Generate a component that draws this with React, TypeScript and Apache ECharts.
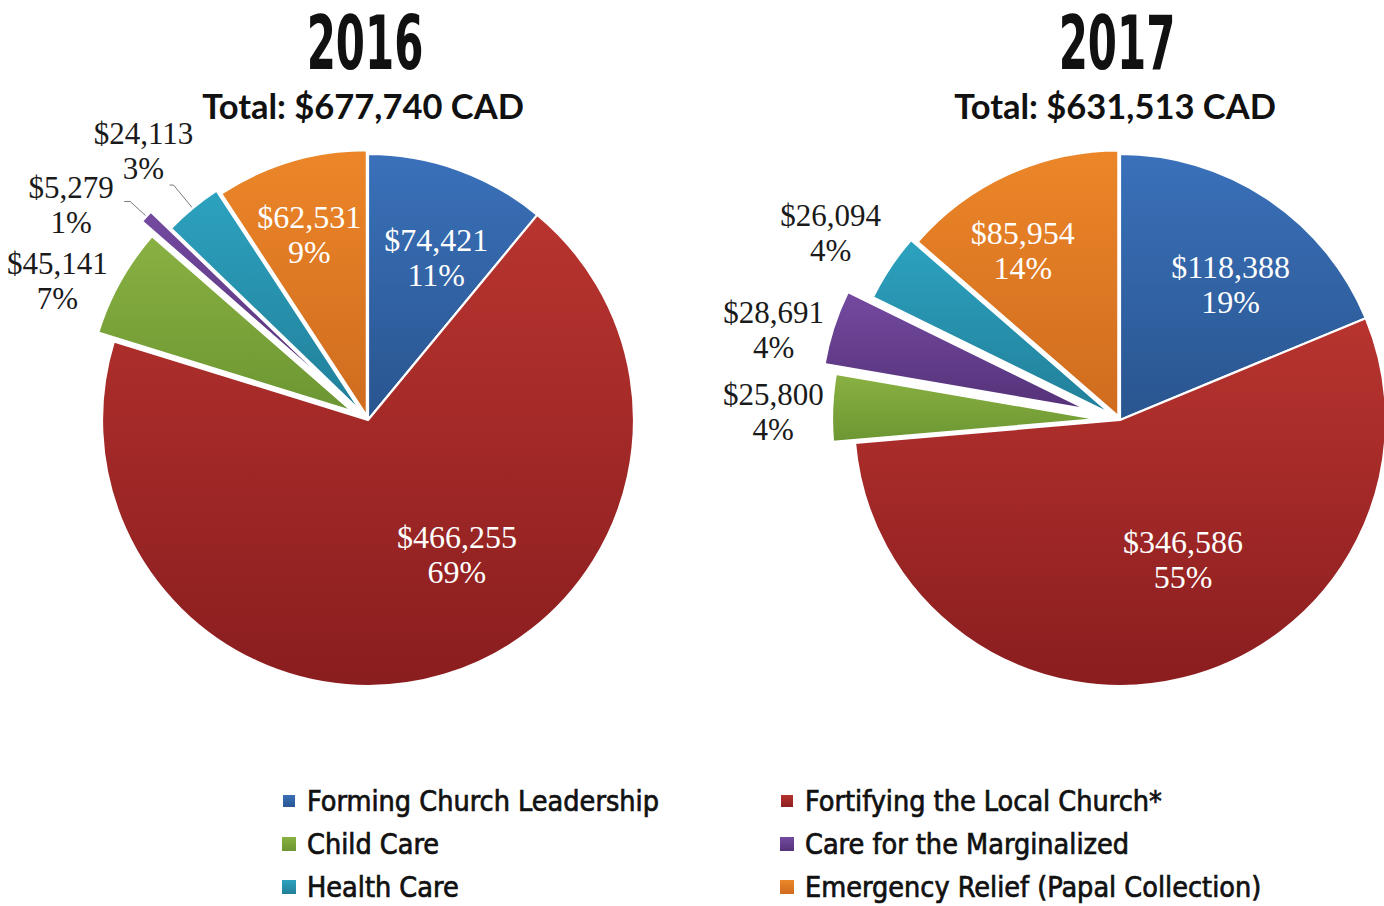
import React, { useEffect, useRef } from 'react';
import * as echarts from 'echarts';

const categories = [
  'Forming Church Leadership',
  'Fortifying the Local Church*',
  'Child Care',
  'Care for the Marginalized',
  'Health Care',
  'Emergency Relief (Papal Collection)',
];
const years = ['2016', '2017'];
const totals = ['Total: $677,740 CAD', 'Total: $631,513 CAD'];
const values2016 = [74421, 466255, 45141, 5279, 24113, 62531];
const values2017 = [118388, 346586, 25800, 28691, 26094, 85954];
const pct2016 = ['11%', '69%', '7%', '1%', '3%', '9%'];
const pct2017 = ['19%', '55%', '4%', '4%', '4%', '14%'];

// styling / layout constants
const colorsTop = ['#3a71ba', '#b8342f', '#89b142', '#744aa0', '#2ca2bf', '#ec8629'];
const colorsBottom = ['#29558f', '#8a1d1f', '#6c9632', '#553279', '#227f99', '#cf6c1e'];
const R = 266;
const centers = [[368, 420], [1120, 420]];
const explode = [
  [0, 0, 18, 35, 9, 4],
  [0, 0, 22, 35, 10, 4],
];
// outside labels: index -> [length, length2, showLine, dx, dy]
const outside = [
  { 2: [2, 0, false, 0, 0], 3: [22, 6, true, 8, 4], 4: [30, 4, true, 35, -34] },
  { 2: [2, 3, false, 7, 4], 3: [2, 3, false, 6, 3], 4: [4, 3, false, 8, -32] },
];
// inside labels: index -> [dx, dy]
const inside = [
  { 0: [7, 8], 1: [37, -39], 5: [-7, -12] },
  { 0: [10, 15], 1: [20, -37], 5: [-22, -5] },
];

const SERIF = "'Liberation Serif', 'DejaVu Serif', serif";
const NARROW = "'DejaVu Sans Condensed', 'Liberation Sans Narrow', sans-serif";

const grad = (i: number) =>
  new echarts.graphic.LinearGradient(0, 0, 0, 1, [
    { offset: 0, color: colorsTop[i] },
    { offset: 1, color: colorsBottom[i] },
  ]);

const fmt = (v: number) => '$' + v.toLocaleString('en-US');

function buildSeries(idx: number) {
  const vals = idx === 0 ? values2016 : values2017;
  const pct = idx === 0 ? pct2016 : pct2017;
  const ex = explode[idx];
  const hidden = { color: 'rgba(0,0,0,0)', borderWidth: 0 };
  const visible = (i: number) => ({ color: grad(i), borderColor: '#ffffff', borderWidth: 2.2 });
  const common: any = {
    type: 'pie',
    center: centers[idx],
    radius: [0, R],
    startAngle: 90,
    clockwise: true,
    silent: true,
    animation: false,
    avoidLabelOverlap: false,
    emphasis: { disabled: true },
    label: { show: false },
    labelLine: { show: false },
  };
  const series: any[] = [];
  // fills that stay in place
  series.push({
    ...common,
    data: categories.map((n, i) => ({
      name: n,
      value: vals[i],
      itemStyle: ex[i] === 0 ? visible(i) : hidden,
    })),
  });
  // exploded fills
  categories.forEach((_, i) => {
    if (ex[i] === 0) return;
    series.push({
      ...common,
      selectedMode: 'single',
      selectedOffset: ex[i],
      select: { itemStyle: visible(i) },
      data: categories.map((n, j) => ({
        name: n,
        value: vals[j],
        selected: j === i,
        itemStyle: j === i ? visible(j) : hidden,
      })),
    });
  });
  // outside labels
  Object.keys(outside[idx]).forEach((key) => {
    const i = Number(key);
    const o = (outside[idx] as any)[i];
    series.push({
      ...common,
      radius: [0, R + ex[i]],
      labelLayout: { dx: o[3], dy: o[4], hideOverlap: false, moveOverlap: false },
      data: categories.map((n, j) => ({
        name: n,
        value: vals[j],
        itemStyle: hidden,
        label:
          j === i
            ? {
                show: true,
                position: 'outside',
                overflow: 'none',
                formatter: `{a|${fmt(vals[j])}}\n{a|${pct[j]}}`,
                rich: {
                  a: {
                    width: 112,
                    align: 'center',
                    fontFamily: SERIF,
                    fontSize: 31,
                    lineHeight: 35,
                    color: '#1a1a1a',
                  },
                },
              }
            : { show: false },
        labelLine:
          j === i
            ? { show: o[2], length: o[0], length2: o[1], lineStyle: { color: '#7a7a7a', width: 1 } }
            : { show: false },
      })),
    });
  });
  // inside labels
  Object.keys(inside[idx]).forEach((key) => {
    const i = Number(key);
    const d = (inside[idx] as any)[i];
    series.push({
      ...common,
      radius: [R * 0.34, R],
      labelLayout: { dx: d[0], dy: d[1], hideOverlap: false },
      data: categories.map((n, j) => ({
        name: n,
        value: vals[j],
        itemStyle: hidden,
        label:
          j === i
            ? {
                show: true,
                position: 'inside',
                formatter: `${fmt(vals[j])}\n${pct[j]}`,
                fontFamily: SERIF,
                fontSize: 32,
                lineHeight: 35,
                color: '#ffffff',
              }
            : { show: false },
      })),
    });
  });
  return series;
}

export default function App() {
  const ref = useRef<HTMLDivElement>(null);
  useEffect(() => {
    if (!ref.current) return;
    const chart = echarts.init(ref.current, undefined, { renderer: 'svg' });
    const legendText = {
      fontFamily: NARROW,
      fontSize: 28.5,
      fontWeight: 'normal' as const,
      color: '#111',
      textBorderColor: '#111',
      textBorderWidth: 0.7,
      lineHeight: 30,
      padding: [0, 0, 0, 6],
    };
    const legendItem = (i: number) => ({ name: categories[i], itemStyle: { color: grad(i) } });
    const graphic: any[] = [];
    years.forEach((y, k) => {
      graphic.push({
        type: 'text',
        x: centers[k][0] - 3,
        y: 44,
        scaleX: 0.63,
        style: {
          text: y,
          fontFamily: NARROW,
          fontWeight: 'bold',
          fontSize: 74,
          fill: '#111',
          textAlign: 'center',
          textVerticalAlign: 'middle',
        },
      });
      graphic.push({
        type: 'text',
        x: centers[k][0] - 5,
        y: 105,
        style: {
          text: totals[k],
          fontFamily: "Lato, 'Open Sans', sans-serif",
          fontWeight: 'bold',
          fontSize: 34.5,
          fill: '#111',
          textAlign: 'center',
          textVerticalAlign: 'middle',
        },
      });
    });
    const legendBase = {
      orient: 'vertical',
      top: 786,
      padding: 0,
      itemGap: 13,
      itemWidth: 14,
      itemHeight: 14,
      icon: 'rect',
      selectedMode: false,
      textStyle: legendText,
    };
    chart.setOption({
      animation: false,
      backgroundColor: '#ffffff',
      graphic,
      legend: [
        { ...legendBase, left: 281, data: [0, 2, 4].map(legendItem) },
        { ...legendBase, left: 779, data: [1, 3, 5].map(legendItem) },
      ],
      series: [...buildSeries(0), ...buildSeries(1)],
    });
    return () => chart.dispose();
  }, []);
  return (
    <div
      ref={ref}
      style={{ position: 'absolute', left: 0, top: 0, width: 1384, height: 906 }}
    />
  );
}
